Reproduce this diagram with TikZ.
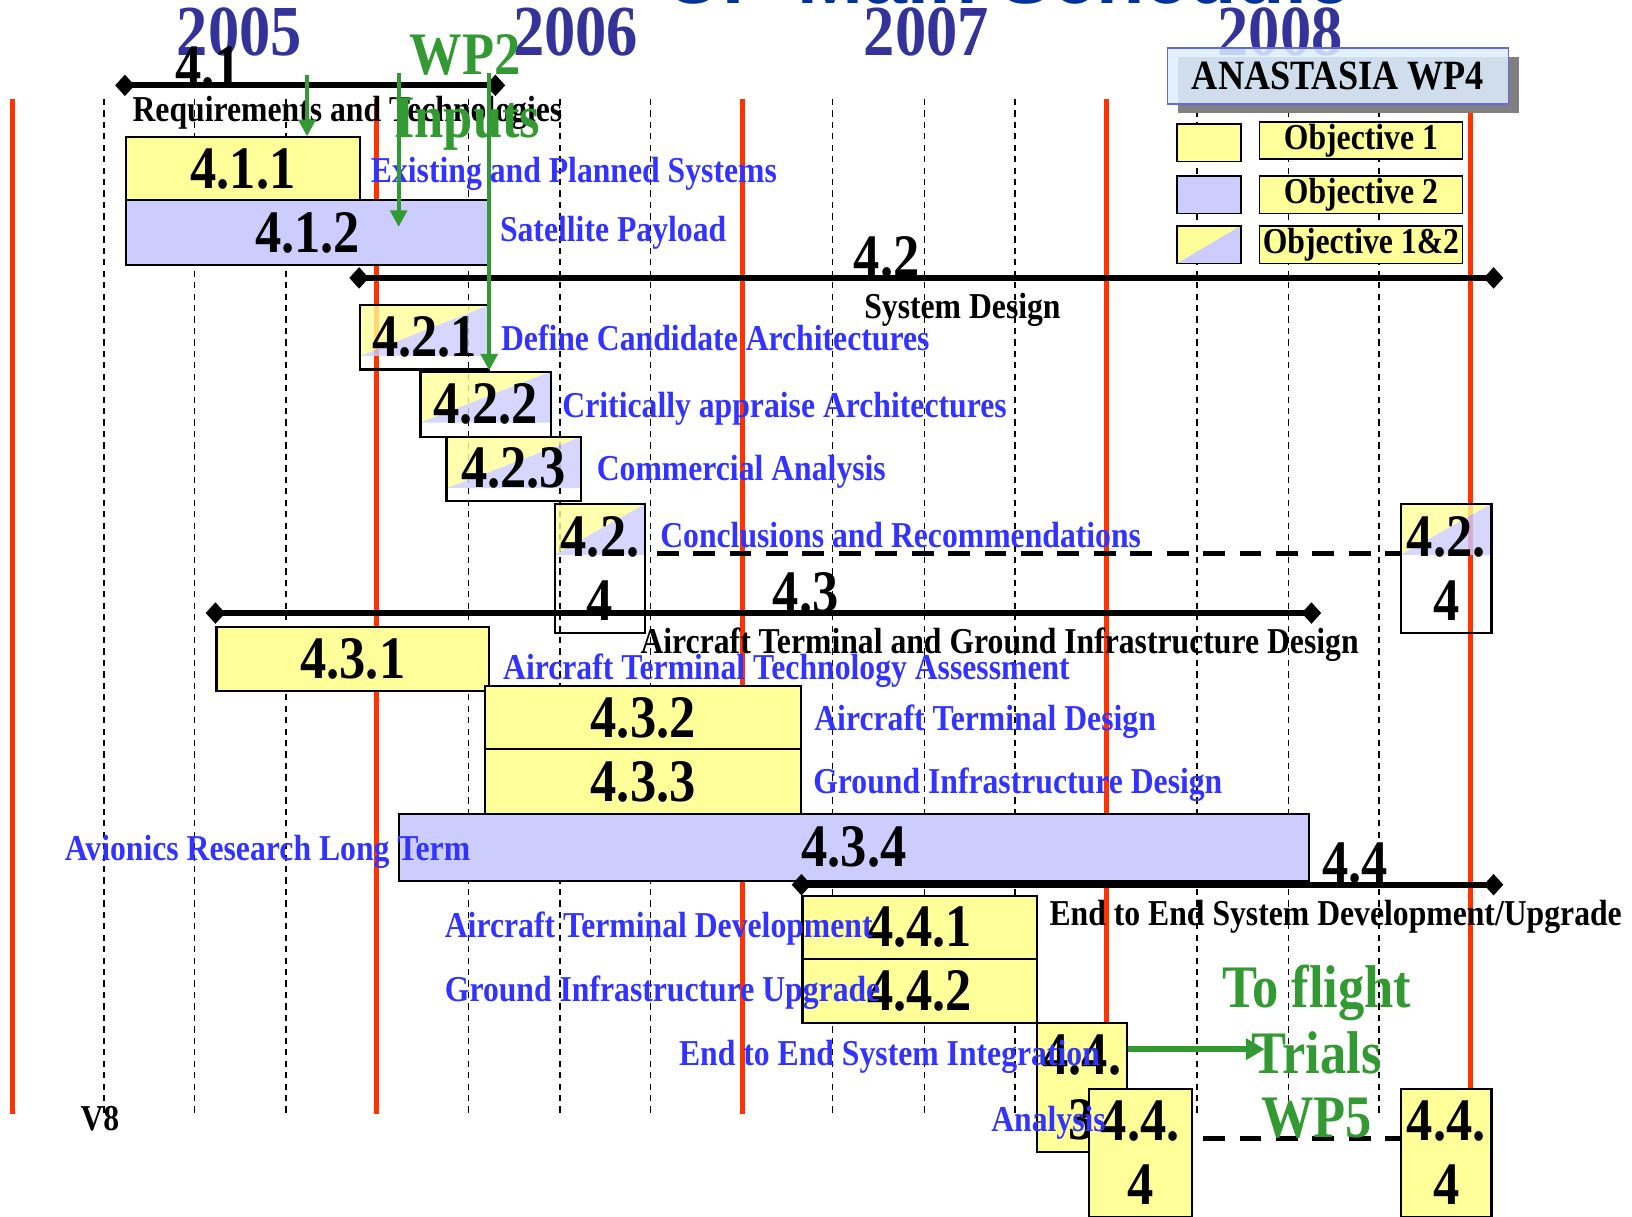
\documentclass[tikz,border=0pt]{standalone}
\usepackage{fontspec}
\setmainfont{Liberation Serif}[FakeStretch=0.87]
\newfontfamily\titlefont{Liberation Sans}
\usetikzlibrary{shapes.geometric,calc,fit,arrows.meta}
\definecolor{yelc}{HTML}{FFFF99}
\definecolor{lavc}{HTML}{CCCCFF}
\definecolor{redc}{HTML}{FF3300}
\definecolor{bluc}{HTML}{3333FF}
\definecolor{yrc}{HTML}{333399}
\definecolor{grc}{HTML}{339933}
\definecolor{titc}{HTML}{003399}
\definecolor{legf}{HTML}{DDEEFF}
\definecolor{legb}{HTML}{6666DD}
\newcommand\fs[1]{\fontsize{#1}{31}\selectfont}
\tikzset{
  redl/.style={draw=redc, line width=2.5pt},
  gridl/.style={draw=black, line width=0.7pt, dash pattern=on 3pt off 2.5pt},
  box/.style={draw=black, line width=1pt, inner sep=0},
  yb/.style={box, fill=yelc},
  lb/.style={box, fill=lavc},
  split/.style={box, path picture={
    \fill[yelc, fill opacity=.8] (path picture bounding box.north west) -- (path picture bounding box.north east) -- ($(path picture bounding box.north west)+(0,#1)$) -- cycle;
    \fill[lavc, fill opacity=.8] (path picture bounding box.north east) -- ($(path picture bounding box.north east)+(0,#1)$) -- ($(path picture bounding box.north west)+(0,#1)$) -- cycle;
  }},
  splitL/.style={box, path picture={
    \fill[yelc] (path picture bounding box.north west) -- (path picture bounding box.north east) -- (path picture bounding box.south west) -- cycle;
    \fill[lavc] (path picture bounding box.north east) -- (path picture bounding box.south east) -- (path picture bounding box.south west) -- cycle;
  }},
  lbl/.style={inner sep=0, align=center, font=\bfseries\fs{29}},
  dia/.style={diamond, fill=black, inner sep=0, minimum width=9.5pt, minimum height=10.5pt},
  bar/.style={line width=3pt},
  dsh/.style={line width=2.5pt, dash pattern=on 10.5pt off 7pt},
  garr/.style={draw=grc, line width=2pt, -{Triangle[length=8pt,width=8pt]}},
  garrb/.style={draw=grc, line width=3pt, -{Triangle[length=9pt,width=10pt]}},
  kt/.style={anchor=base west, inner sep=0, font=\bfseries\fs{17.5}},
  bt/.style={kt, text=bluc},
  gt/.style={anchor=base, inner sep=0, text=grc, font=\bfseries\fs{29}},
  yr/.style={anchor=base, inner sep=0, text=yrc, font=\bfseries\fs{34.5}},
  sl/.style={anchor=base, inner sep=0, font=\bfseries\fs{29}},
  ol/.style={inner sep=0, font=\bfseries\fs{17.5}},
}
\begin{document}
\begin{tikzpicture}[x=0.5pt,y=-0.5pt]
\useasboundingbox (0,0) rectangle (1568,1169);
% grid
\foreach \x in {100,187,275,450,538,625,800,888,975,1150,1238,1325}
  \draw[gridl] (\x,95) -- (\x,1070);
\foreach \x in {12,362,713,1063,1413}
  \draw[redl] (\x,95) -- (\x,1070);
% title (cut off)
\node[anchor=base west, inner sep=0, text=titc, font=\titlefont\bfseries\fontsize{38}{40}\selectfont] (title) at (639,3) {UP Main Schedule};
% years
\node[yr] (y2005) at (230,53) {2005};
\node[yr] (y2006) at (553,53) {2006};
\node[yr] (y2007) at (890,53) {2007};
\node[yr] (y2008) at (1230,53) {2008};
% summary labels
\node[sl] (s41) at (200,83) {4.1};
\node[sl] (s42) at (852,266) {4.2};
\node[sl] (s43) at (774,588) {4.3};
\node[sl] (s44) at (1302,848) {4.4};
% boxes
\node[yb, fit={(121,132) (346,192)}] (b411) {};
\node[lbl] (l411) at (b411.center) {4.1.1};
\node[lb, fit={(121,192) (470,255)}] (b412) {};
\node[lbl] (l412) at (b412.center) {4.1.2};
\node[split=49, fit={(346,293) (470,355)}] (b421) {};
\node[lbl] (l421) at ($(b421.north)+(0,32)$) {4.2.1};
\node[split=49, fit={(404,357) (529,420)}] (b422) {};
\node[lbl] (l422) at ($(b422.north)+(0,32)$) {4.2.2};
\node[split=49, fit={(429,420) (558,481)}] (b423) {};
\node[lbl] (l423) at ($(b423.north)+(0,31)$) {4.2.3};
\node[split=49, fit={(533,484) (620,608)}] (b424a) {};
\node[lbl] (l424a) at (b424a.center) {4.2.\\4};
\node[split=49, fit={(1346,484) (1433,608)}] (b424b) {};
\node[lbl] (l424b) at (b424b.center) {4.2.\\4};
\node[yb, fit={(208,602) (470,664)}] (b431) {};
\node[lbl] (l431) at (b431.center) {4.3.1};
\node[yb, fit={(466,659) (770,720)}] (b432) {};
\node[lbl] (l432) at (b432.center) {4.3.2};
\node[yb, fit={(466,720) (770,782)}] (b433) {};
\node[lbl] (l433) at (b433.center) {4.3.3};
\node[lb, fit={(383,782) (1258,846)}] (b434) {};
\node[lbl] (l434) at (b434.center) {4.3.4};
\node[yb, fit={(771,861) (996,921)}] (b441) {};
\node[lbl] (l441) at (b441.center) {4.4.1};
\node[yb, fit={(771,921) (996,983)}] (b442) {};
\node[lbl] (l442) at (b442.center) {4.4.2};
\node[yb, fit={(996,983) (1083,1107)}] (b443) {};
\node[lbl] (l443) at (b443.center) {4.4.\\3};
\node[yb, fit={(1046,1046) (1145,1169)}] (b444a) {};
\node[lbl] (l444a) at (b444a.center) {4.4.\\4};
\node[yb, fit={(1346,1046) (1433,1169)}] (b444b) {};
\node[lbl] (l444b) at (b444b.center) {4.4.\\4};
% summary bars
\node[dia] (d41a) at (120,82) {};
\node[dia] (d41b) at (476,82) {};
\draw[bar] (d41a.center) -- (d41b.center);
\node[dia] (d42a) at (345,267) {};
\node[dia] (d42b) at (1435,267) {};
\draw[bar] (d42a.center) -- (d42b.center);
\node[dia] (d43a) at (207,589) {};
\node[dia] (d43b) at (1260,589) {};
\draw[bar] (d43a.center) -- (d43b.center);
\node[dia] (d44a) at (770,850) {};
\node[dia] (d44b) at (1435,850) {};
\draw[bar] (d44a.center) -- (d44b.center);
% dashed links
\draw[dsh] ($(b424a.north east)+(10,49)$) -- ($(b424b.north west)+(0,49)$);
\draw[dsh] ($(b444a.north east)+(10,49)$) -- ($(b444b.north west)+(0,49)$);
% black phase texts
\node[kt] (t41) at (127,117) {Requirements and Technologies};
\node[kt] (t42) at (830,306) {System Design};
\node[kt] (t43) at (615,628) {Aircraft Terminal and Ground Infrastructure Design};
\node[kt] (t44) at (1008,889) {End to End System Development/Upgrade};
\node[kt] (v8) at (77,1086) {V8};
% blue texts
\node[bt] (t411) at (356,175) {Existing and Planned Systems};
\node[bt] (t412) at (480,232) {Satellite Payload};
\node[bt] (t421) at (481,337) {Define Candidate Architectures};
\node[bt] (t422) at (540,401) {Critically appraise Architectures};
\node[bt] (t423) at (573,462) {Commercial Analysis};
\node[bt] (t424) at (634,526) {Conclusions and Recommendations};
\node[bt] (t431) at (483,653) {Aircraft Terminal Technology Assessment};
\node[bt] (t432) at (782,702) {Aircraft Terminal Design};
\node[bt] (t433) at (781,762) {Ground Infrastructure Design};
\node[bt] (t434) at (62,827) {Avionics Research Long Term};
\node[bt] (t441) at (427,901) {Aircraft Terminal Development};
\node[bt] (t442) at (427,962) {Ground Infrastructure Upgrade};
\node[bt] (t443) at (652,1024) {End to End System Integration};
\node[bt] (t444) at (952,1087) {Analysis};
% green
\node[gt] (wp2) at (447,72) {WP2};
\node[gt] (inp) at (449,132) {Inputs};
\node[gt] (tf) at (1265,968) {To flight};
\node[gt] (tr) at (1265,1031) {Trials};
\node[gt] (wp5) at (1265,1093) {WP5};
\coordinate (g1) at (295,72);
\coordinate (g2) at (383,70);
\coordinate (g2e) at (383,218);
\coordinate (g3) at (470,70);
\coordinate (g4e) at (1215,1008);
\draw[garr] (g1) -- (g1 |- b411.north);
\draw[garr] (g2) -- (g2e);
\draw[garr] (g3) -- (g3 |- b421.south);
\draw[garrb] (g4e -| b443.east) -- (g4e);
% legend
\node[fill=black!50, inner sep=0, fit={(1132,55) (1459,109)}] (lgsh) {};
\node[draw=legb, line width=0.6pt, fill=legf, fill opacity=0.85, inner sep=0, fit={(1122,46) (1449,100)}] (lgt) {};
\node[ol, font=\bfseries\fs{20}] (lgtx) at (lgt.center) {ANASTASIA WP4};
\node[yb, line width=0.8pt, fit={(1131,119) (1192,155)}] (lg1) {};
\node[lb, line width=0.8pt, fit={(1131,169) (1192,205)}] (lg2) {};
\node[splitL, line width=0.8pt, fit={(1131,217) (1192,253)}] (lg3) {};
\node[yb, line width=0.8pt, fit={(1210,117) (1405,153)}] (lo1) {};
\node[ol] (lo1t) at (lo1.center) {Objective 1};
\node[yb, line width=0.8pt, fit={(1210,169) (1405,205)}] (lo2) {};
\node[ol] (lo2t) at (lo2.center) {Objective 2};
\node[yb, line width=0.8pt, fit={(1210,217) (1405,253)}] (lo3) {};
\node[ol] (lo3t) at (lo3.center) {Objective 1\&2};
\end{tikzpicture}
\end{document}
